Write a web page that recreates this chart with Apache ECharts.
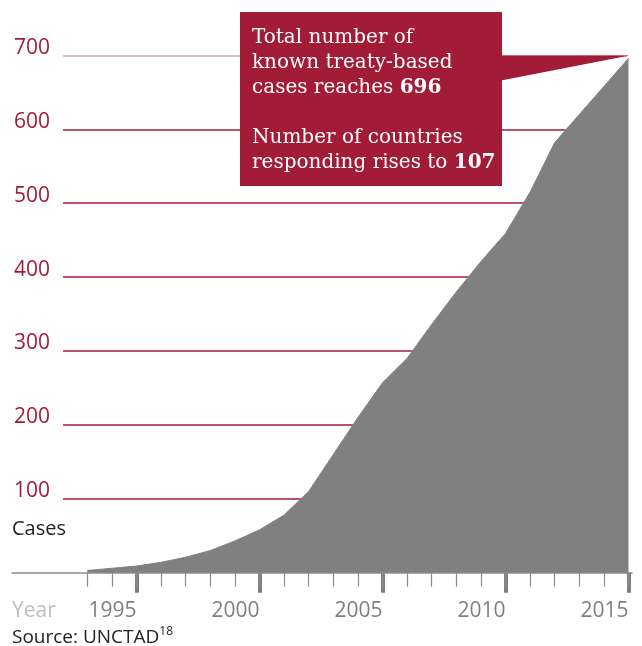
<!DOCTYPE html>
<html>
<head>
<meta charset="utf-8">
<script src="https://cdn.jsdelivr.net/npm/echarts@6/dist/echarts.min.js"></script>
<style>
  html, body { margin: 0; padding: 0; background: #fff; }
  #chart { width: 642px; height: 646px; }
</style>
</head>
<body>
<div id="chart"></div>
<script>
// ---- data ----
const years = ['1993','1994','1995','1996','1997','1998','1999','2000','2001','2002','2003','2004',
               '2005','2006','2007','2008','2009','2010','2011','2012','2013','2014','2015'];
const cases = [3, 6, 9, 14, 21, 30, 43, 58, 78, 110, 160, 210,
               257, 290, 336, 380, 421, 459, 515, 582, 620, 658, 696];
const yTickValues = [0, 100, 200, 300, 400, 500, 600, 700];
const majorYears = ['1995', '2000', '2005', '2010', '2015'];
const countriesResponding = 107;
const totalCases = cases[cases.length - 1];

// ---- styles ----
const SANS = "'Open Sans', 'Noto Sans', sans-serif";
const SERIF = "'DejaVu Serif', serif";
const CRIMSON = '#a31c37';
const LIGHT_CRIMSON = '#d6a2ad';
const TOP = 55.4, BOTTOM = 73.3;
const Y_MIN = yTickValues[0], Y_MAX = yTickValues[yTickValues.length - 1];

const isMajor = (idx, val) => majorYears.indexOf(String(val)) >= 0;

const chart = echarts.init(document.getElementById('chart'), null, { renderer: 'canvas' });

const option = {
  animation: false,
  backgroundColor: '#fff',
  grid: [
    { left: 12, right: 10, top: TOP, bottom: BOTTOM },
    { left: 63, right: 15, top: TOP, bottom: BOTTOM },
    { left: 87.3, right: 13.5, top: TOP, bottom: BOTTOM }
  ],
  xAxis: [
    { gridIndex: 0, type: 'value', min: 0, max: 1,
      axisLine: { show: true, lineStyle: { color: '#8c8c8c', width: 1.5 } },
      axisTick: { show: false }, axisLabel: { show: false }, splitLine: { show: false } },
    { gridIndex: 1, type: 'value', min: 0, max: 1, show: false },
    { gridIndex: 2, type: 'category', data: years, boundaryGap: false, position: 'bottom',
      axisLine: { show: false },
      axisTick: { show: true, interval: isMajor, length: 20, lineStyle: { width: 4, color: '#808080' } },
      axisLabel: { interval: isMajor, align: 'right', margin: 28, color: '#808080',
                   fontSize: 21, fontFamily: SANS },
      splitLine: { show: false } },
    { gridIndex: 2, type: 'category', data: years, boundaryGap: false, position: 'bottom', offset: 0,
      axisLine: { show: false },
      axisTick: { show: true, interval: 0, length: 14, lineStyle: { width: 1.2, color: '#8c8c8c' } },
      axisLabel: { show: false }, splitLine: { show: false } }
  ],
  yAxis: [
    { gridIndex: 0, type: 'value', min: Y_MIN, max: Y_MAX, show: false },
    { gridIndex: 1, type: 'value', min: Y_MIN, max: Y_MAX,
      interval: yTickValues[1] - yTickValues[0],
      axisLine: { show: false }, axisTick: { show: false },
      axisLabel: { color: CRIMSON, fontSize: 21, fontFamily: SANS, align: 'left', margin: 49,
                   verticalAlign: 'bottom', lineHeight: 15,
                   formatter: v => (v === Y_MIN ? '' : String(v)) },
      splitLine: { show: true, showMinLine: false, showMaxLine: false,
                   lineStyle: { width: 1.5, color: CRIMSON } } },
    { gridIndex: 2, type: 'value', min: Y_MIN, max: Y_MAX, show: false },
    // top line (lighter) of the value grid
    { gridIndex: 1, type: 'value', min: Y_MIN, max: Y_MAX, interval: Y_MAX - Y_MIN,
      axisLine: { show: false }, axisTick: { show: false }, axisLabel: { show: false },
      splitLine: { show: true, showMinLine: false, showMaxLine: true,
                   lineStyle: { width: 1.5, color: LIGHT_CRIMSON } } }
  ],
  title: [
    { text: 'Cases', left: 12, top: 519, padding: 0,
      textStyle: { fontSize: 20, fontWeight: 'normal', color: '#222', fontFamily: SANS } },
    { text: 'Year', left: 12, top: 601, padding: 0,
      textStyle: { fontSize: 21, fontWeight: 'normal', color: '#bdbdbd', fontFamily: SANS } },
    { text: 'Source: UNCTAD{sup|18}', left: 12, top: 626, padding: 0,
      textStyle: { fontSize: 19, fontWeight: 'normal', color: '#222', fontFamily: SANS, lineHeight: 24,
        rich: { sup: { fontSize: 12, color: '#222', fontFamily: SANS, verticalAlign: 'top', lineHeight: 14 } } } }
  ],
  series: [
    { type: 'line', xAxisIndex: 2, yAxisIndex: 2, data: cases, symbol: 'none',
      lineStyle: { width: 1, color: '#808080' },
      areaStyle: { color: '#808080', opacity: 1 }, z: 3 }
  ]
};

chart.setOption(option);

const tip = chart.convertToPixel({ xAxisIndex: 2, yAxisIndex: 2 }, [years[years.length - 1], totalCases]);
const topY = chart.convertToPixel({ yAxisIndex: 2 }, Y_MAX);
const box = { x: 240, y: 12, w: 262, h: 174 };
const calloutText = [
  'Total number of',
  'known treaty-based',
  'cases reaches {b|' + totalCases + '}',
  '',
  'Number of countries',
  'responding rises to {b|' + countriesResponding + '}'
].join('\n');

chart.setOption({
  graphic: [
    { type: 'polygon', z: 10,
      shape: { points: [[box.x + box.w - 1, topY], [tip[0] + 1, topY], [box.x + box.w - 1, topY + 25]] },
      style: { fill: CRIMSON } },
    { type: 'rect', z: 10, shape: { x: box.x, y: box.y, width: box.w, height: box.h }, style: { fill: CRIMSON } },
    { type: 'text', z: 11, x: 252, y: 25,
      style: { text: calloutText, fill: '#fff', fontFamily: SERIF, fontSize: 20, lineHeight: 25,
        rich: { b: { fontFamily: SERIF, fontSize: 20, fontWeight: 'bold', fill: '#fff', lineHeight: 25 } } } }
  ]
});
</script>
</body>
</html>
